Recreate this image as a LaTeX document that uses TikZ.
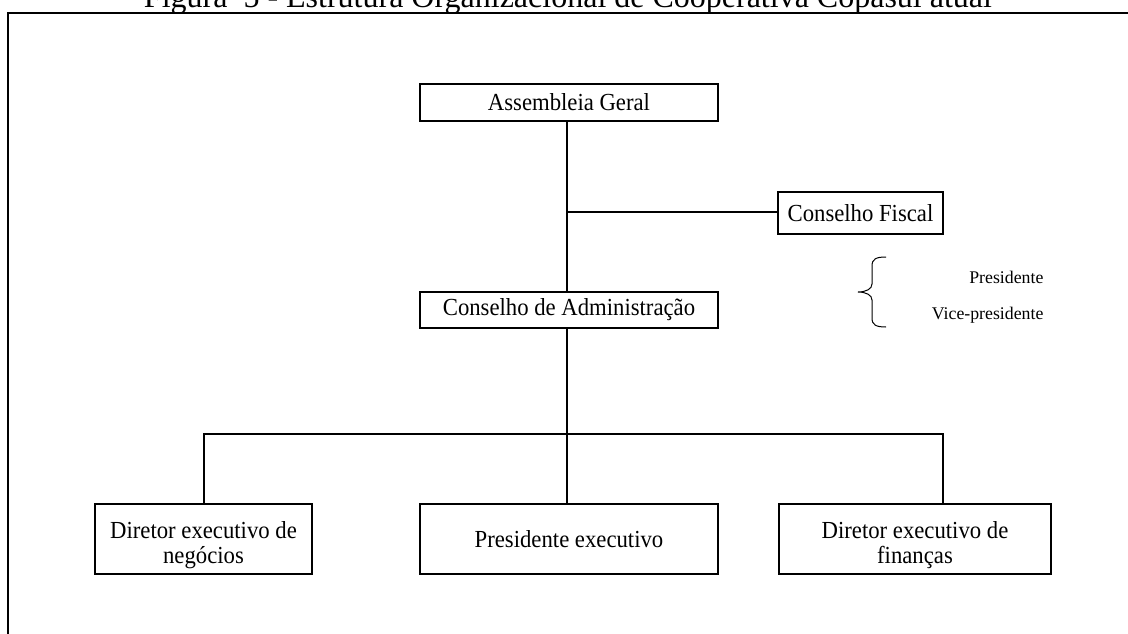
\documentclass[tikz,border=0pt]{standalone}
\usepackage{fontspec}
\setmainfont{Liberation Serif}
\newfontfamily\boxserif{Liberation Serif}[FakeStretch=0.927]
\begin{document}
\begin{tikzpicture}[x=1pt,y=-1pt,
  boxfont/.style={font=\boxserif\fontsize{24.5}{25}\selectfont},
  orgbox/.style={draw, line width=1.2pt, inner sep=0pt, align=center, boxfont},
  twoline/.style={label={[boxfont, align=center, yshift=-6pt]center:#1}},
  link/.style={line width=1.2pt},
  side/.style={font=\fontsize{17.8}{20}\selectfont, anchor=base east}]
\useasboundingbox (0,0) rectangle (1128,634);
\clip (0,0) rectangle (1128,634);

% title (partly above the page edge) and frame
\node[anchor=base, font=\fontsize{32}{36}\selectfont] (title) at (568,8)
  {Figura\ \ 5 - Estrutura Organizacional de Cooperativa Copasul atual};
\draw[line width=2pt] (8,640) -- (8,13) -- (1135,13);

% boxes
\node[orgbox, minimum width=298pt, minimum height=37pt] (ag) at (569,102.5) {Assembleia Geral};
\node[orgbox, minimum width=298pt, minimum height=36pt] (ca) at (569,310) {Conselho de Administração};
\node[orgbox, minimum width=165pt, minimum height=42pt] (cf) at (860.5,213) {Conselho Fiscal};
\node[orgbox, minimum width=217pt, minimum height=70pt,
  twoline={Diretor executivo de\\negócios}] (dn) at (203.5,539) {};
\node[orgbox, minimum width=298pt, minimum height=70pt] (pe) at (569,539) {Presidente executivo};
\node[orgbox, minimum width=272pt, minimum height=70pt,
  twoline={Diretor executivo de\\finanças}] (df) at (915,539) {};

% junction points
\coordinate (fork) at (567,212);
\coordinate (bus) at (567,434);
\coordinate (lb) at (204,434);
\coordinate (rb) at (943,434);

% connectors
\draw[link] (ag.south -| fork) -- (ca.north -| fork);
\draw[link] (fork) -- (fork -| cf.west);
\draw[link] (ca.south -| bus) -- (pe.north -| bus);
\draw[link] (dn.north -| lb) -- (lb) -- (rb) -- (df.north -| rb);

% board members with brace
\draw[line width=1pt] (886,257) .. controls (876,257) and (872,259) .. (872,266)
  -- (872,284) .. controls (872,289) and (866,292) .. (858,292)
  .. controls (866,292) and (872,295) .. (872,300)
  -- (872,318) .. controls (872,325) and (876,327) .. (886,327);
\node[side] (pres) at (1047,283) {Presidente};
\node[side] (vice) at (1047,319) {Vice-presidente};
\end{tikzpicture}
\end{document}
